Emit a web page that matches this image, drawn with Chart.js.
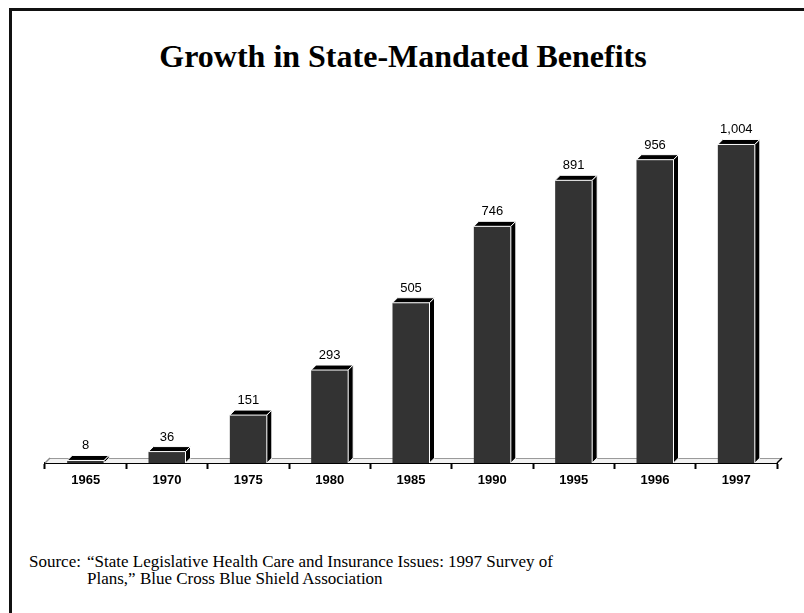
<!DOCTYPE html>
<html>
<head>
<meta charset="utf-8">
<script src="https://cdn.jsdelivr.net/npm/chart.js@4"></script>
<style>
  html, body { margin: 0; padding: 0; background: #fff; }
  body { width: 804px; height: 613px; position: relative; overflow: hidden; }
  #frame {
    position: absolute; left: 9px; top: 8px; width: 900px; height: 700px;
    border-left: 3px solid #111; border-top: 3px solid #111;
  }
  #title {
    position: absolute; left: 0; top: 38px; width: 806px; text-align: center;
    font: bold 32px "Liberation Serif", "Times New Roman", serif; color: #000;
  }
  #wrap { position: absolute; left: 0; top: 0; width: 804px; height: 500px; }
  .src {
    position: absolute; font: 17px "Liberation Serif", "Times New Roman", serif;
    color: #000; white-space: nowrap;
  }
</style>
</head>
<body>
<div id="frame"></div>
<div id="title">Growth in State-Mandated Benefits</div>
<div id="wrap"><canvas id="chart"></canvas></div>
<div class="src" style="left:29px; top:552px;">Source:</div>
<div class="src" style="left:87px; top:552px;">“State Legislative Health Care and Insurance Issues: 1997 Survey of</div>
<div class="src" style="left:87px; top:569px;">Plans,” Blue Cross Blue Shield Association</div>

<script>
var years = ['1965', '1970', '1975', '1980', '1985', '1990', '1995', '1996', '1997'];
var benefits = [8, 36, 151, 293, 505, 746, 891, 956, 1004];
var valueLabels = ['8', '36', '151', '293', '505', '746', '891', '956', '1,004'];

var DEPTH = 5;

// floor strip under the bars, then top and side faces + value labels on top
var boxes = {
  id: 'boxes',
  beforeDatasetsDraw: function(chart) {
    var c = chart.ctx, a = chart.chartArea;
    c.save();
    c.beginPath();
    c.moveTo(a.left, a.bottom);
    c.lineTo(a.right, a.bottom);
    c.lineTo(a.right + DEPTH, a.bottom - DEPTH);
    c.lineTo(a.left + DEPTH, a.bottom - DEPTH);
    c.closePath();
    c.fillStyle = '#f2f2f2';
    c.fill();
    c.strokeStyle = '#9a9a9a';
    c.lineWidth = 1;
    c.beginPath();
    c.moveTo(a.left + DEPTH, a.bottom - DEPTH + 0.5);
    c.lineTo(a.right + DEPTH, a.bottom - DEPTH + 0.5);
    c.stroke();
    c.strokeStyle = '#000';
    c.lineWidth = 1.5;
    c.beginPath();
    c.moveTo(a.right, a.bottom);
    c.lineTo(a.right + DEPTH, a.bottom - DEPTH);
    c.stroke();
    c.strokeStyle = '#888';
    c.beginPath();
    c.moveTo(a.left, a.bottom);
    c.lineTo(a.left + DEPTH, a.bottom - DEPTH);
    c.stroke();
    c.restore();
  },
  afterDatasetsDraw: function(chart) {
    var c = chart.ctx;
    var meta = chart.getDatasetMeta(0);
    c.save();
    meta.data.forEach(function(bar, i) {
      var x0 = bar.x - bar.width / 2, x1 = bar.x + bar.width / 2;
      var top = bar.y, bottom = bar.base;
      c.fillStyle = '#000';
      c.strokeStyle = '#fff';
      c.lineWidth = 1;
      // top face
      c.beginPath();
      c.moveTo(x0, top);
      c.lineTo(x1, top);
      c.lineTo(x1 + DEPTH, top - DEPTH);
      c.lineTo(x0 + DEPTH, top - DEPTH);
      c.closePath();
      c.fill();
      c.stroke();
      // side face
      c.beginPath();
      c.moveTo(x1, top);
      c.lineTo(x1 + DEPTH, top - DEPTH);
      c.lineTo(x1 + DEPTH, bottom - DEPTH);
      c.lineTo(x1, bottom);
      c.closePath();
      c.fill();
      c.stroke();
      c.fillStyle = '#000';
      c.font = '13px "Liberation Sans", Arial, sans-serif';
      c.textAlign = 'center';
      c.textBaseline = 'alphabetic';
      c.fillText(valueLabels[i], bar.x, top - DEPTH - 6);
    });
    c.restore();
  }
};

new Chart(document.getElementById('chart'), {
  type: 'bar',
  data: {
    labels: years,
    datasets: [{
      data: benefits,
      backgroundColor: '#333333',
      borderWidth: 0,
      barPercentage: 0.455,
      categoryPercentage: 1
    }]
  },
  options: {
    responsive: true,
    maintainAspectRatio: false,
    animation: false,
    layout: { padding: { left: 45, right: 27, top: 114, bottom: 7 } },
    plugins: { legend: { display: false }, tooltip: { enabled: false } },
    scales: {
      x: {
        afterFit: function(s) { s.height = 30; },
        grid: { drawOnChartArea: false, tickLength: 6, tickWidth: 2, tickColor: '#000', offset: true },
        border: { display: true, color: '#000', width: 2 },
        ticks: {
          color: '#000', padding: 4,
          font: { family: '"Liberation Sans", Arial, sans-serif', size: 13, weight: 'bold' }
        }
      },
      y: { display: false, min: 0, max: 1100 }
    }
  },
  plugins: [boxes]
});
</script>
</body>
</html>
